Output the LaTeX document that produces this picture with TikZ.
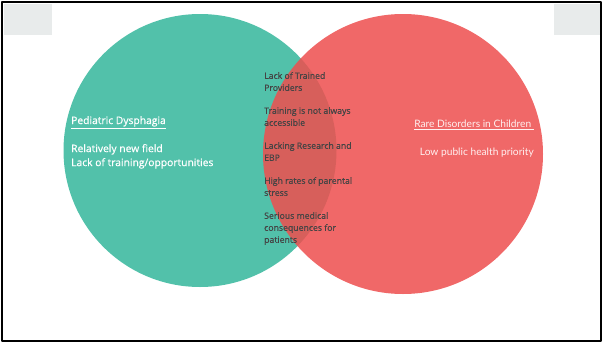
\documentclass[tikz,border=0pt]{standalone}
\usepackage{fontspec}
\setmainfont{Open Sans}
\newfontfamily\semifont[FakeBold=0.6]{Open Sans}
\newfontfamily\latofont{Lato}
\definecolor{tealc}{HTML}{52C1AA}
\definecolor{redc}{HTML}{EE4F4F}
\definecolor{paneg}{HTML}{E8EBEB}
\definecolor{listc}{HTML}{444444}
\tikzset{
	lefttxt/.style={anchor=north west, inner sep=0pt, text=white, align=left, font=\semifont\fontsize{10.3}{14}\selectfont},
	righttxt/.style={anchor=north east, inner sep=0pt, text=white!94!red, align=right, font=\latofont\fontsize{10.2}{14}\selectfont},
	item/.style={anchor=north west, inner sep=0pt, text=listc, align=left, font=\semifont\fontsize{8.7}{12}\selectfont}
}
\begin{document}
\begin{tikzpicture}[x=1pt, y=-1pt, line join=round, line cap=round]
	\useasboundingbox (0,0) rectangle (603,343);
	% panel corners
	\fill[paneg] (4,4) rectangle (52,35);
	\fill[paneg] (554,4) rectangle (600,35);
	% the two sets
	\fill[tealc] (200,150.5) circle[radius=136.5pt];
	\fill[redc, fill opacity=0.86] (403,154) circle[radius=140pt];
	% left set
	\node[lefttxt] (ped) at (71,116) {\underline{Pediatric Dysphagia}};
	\node[lefttxt] (pednotes) at (71,144) {Relatively new field\\Lack of training/opportunities};
	% right set
	\node[righttxt] (rare) at (534,120) {\underline{Rare Disorders in Children\ }};
	\node[righttxt] (rarenotes) at (534,148) {Low public health priority};
	% overlap
	\node[item] (i1) at (264,72) {Lack of Trained\\Providers};
	\node[item] (i2) at (264,107) {Training is not always\\accessible};
	\node[item] (i3) at (264,142) {Lacking Research and\\EBP};
	\node[item] (i4) at (264,177) {High rates of parental\\stress};
	\node[item] (i5) at (264,212) {Serious medical\\consequences for\\patients};
	% frame
	\draw[line width=2.5pt, black] (2,2) rectangle (601,341);
\end{tikzpicture}
\end{document}
